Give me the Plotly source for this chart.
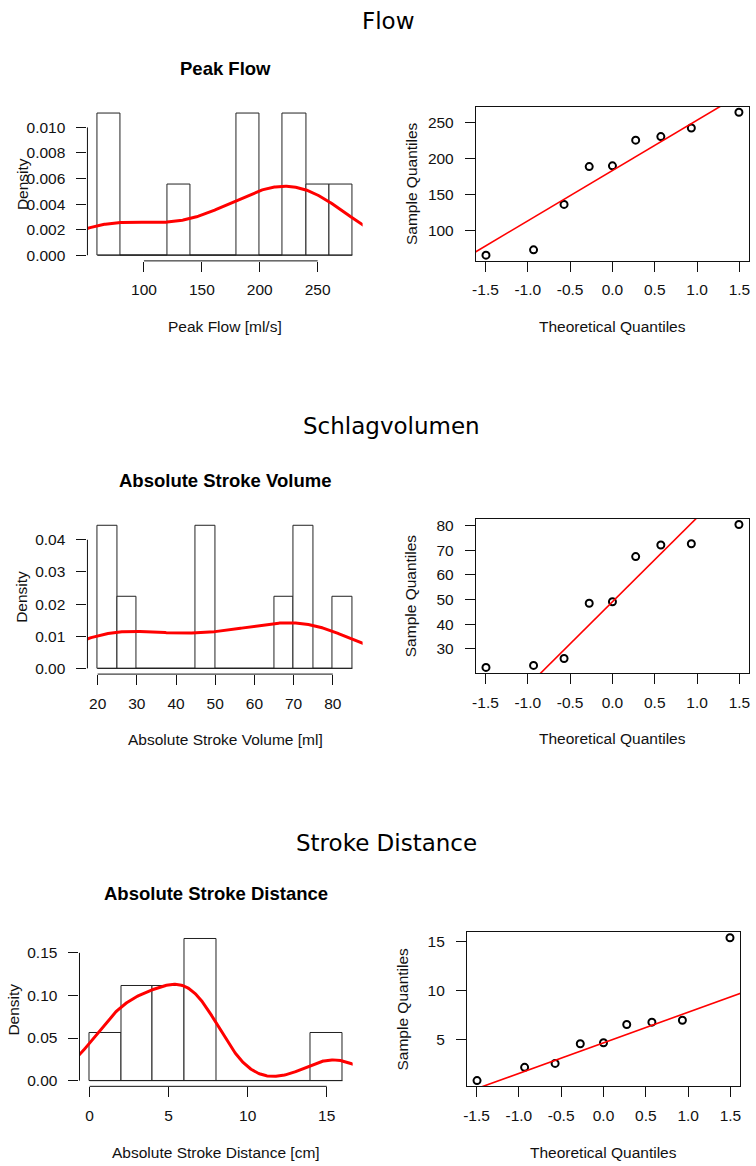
import numpy as np
import plotly.graph_objects as go
from statistics import NormalDist

W, H = 756, 1166

# ---- data -------------------------------------------------------------
peak_flow = [65, 72.5, 136, 189, 190, 226, 231, 243, 265]
stroke_volume = [22.5, 23.3, 26.1, 48.5, 49.1, 67.4, 72.1, 72.6, 80.4]
stroke_distance = [0.85, 2.2, 2.6, 4.6, 4.7, 6.56, 6.8, 7.0, 15.4]

peak_flow_breaks = [60, 80, 100, 120, 140, 160, 180, 200, 220, 240, 260, 280]
stroke_volume_breaks = [20, 25, 30, 35, 40, 45, 50, 55, 60, 65, 70, 75, 80, 85]
stroke_distance_breaks = [0, 2, 4, 6, 8, 10, 12, 14, 16]

section_titles = ["Flow", "Schlagvolumen", "Stroke Distance"]
hist_titles = ["Peak Flow", "Absolute Stroke Volume", "Absolute Stroke Distance"]
hist_xtitles = ["Peak Flow [ml/s]", "Absolute Stroke Volume [ml]",
                "Absolute Stroke Distance [cm]"]

hist_xticks = [[100, 150, 200, 250],
               [20, 30, 40, 50, 60, 70, 80],
               [0, 5, 10, 15]]
hist_yticks = [[0, 0.002, 0.004, 0.006, 0.008, 0.010],
               [0, 0.01, 0.02, 0.03, 0.04],
               [0, 0.05, 0.10, 0.15]]
hist_yfmt = [".3f", ".2f", ".2f"]

qq_xticks = [-1.5, -1.0, -0.5, 0.0, 0.5, 1.0, 1.5]
qq_xticklabels = ["-1.5", "-1.0", "-0.5", "0.0", "0.5", "1.0", "1.5"]
qq_yticks = [[100, 150, 200, 250],
             [30, 40, 50, 60, 70, 80],
             [5, 10, 15]]

samples = [peak_flow, stroke_volume, stroke_distance]
breaks = [peak_flow_breaks, stroke_volume_breaks, stroke_distance_breaks]

# ---- page layout (pixel boxes: left, top, right, bottom) ---------------
hist_boxes = [(84, 106, 361, 260), (84, 520, 361, 675), (76, 935, 351, 1089)]
qq_boxes = [(475, 105, 750, 260), (475, 519, 750, 674), (466, 934, 741, 1089)]
section_title_pos = [(387, 19), (390.5, 425.5), (385, 844.5)]

LBL = "Liberation Sans, Arial, Helvetica, sans-serif"
INK = "#111111"
RED = "#ff0000"
FS = 15.5


def px_x(v):
    return v / W


def px_y(v):
    return 1 - v / H


def ext(lo, hi, f=0.04):
    d = (hi - lo) * f
    return [lo - d, hi + d]


def to_paper(v, rng, d):
    return d[0] + (v - rng[0]) / (rng[1] - rng[0]) * (d[1] - d[0])


def kde_nrd0(x):
    x = np.asarray(x, float)
    n = len(x)
    q1, q3 = np.quantile(x, [0.25, 0.75])
    bw = 0.9 * min(np.std(x, ddof=1), (q3 - q1) / 1.34) * n ** -0.2
    grid = np.linspace(x.min() - 3 * bw, x.max() + 3 * bw, 512)
    z = (grid[:, None] - x[None, :]) / bw
    dens = np.exp(-0.5 * z ** 2).sum(axis=1) / (n * bw * np.sqrt(2 * np.pi))
    return grid, dens


def tick_axis(**kw):
    base = dict(showgrid=False, zeroline=False, ticks="outside", ticklen=10,
                tickwidth=1, tickcolor=INK,
                tickfont=dict(family=LBL, size=FS, color=INK))
    base.update(kw)
    return base


def label(text, x, y, size=FS, angle=0, weight="normal", family=LBL, color=INK):
    return dict(text=text, x=px_x(x), y=px_y(y), xref="paper", yref="paper",
                showarrow=False, xanchor="center", yanchor="middle",
                textangle=angle, font=dict(family=family, size=size,
                                           color=color, weight=weight))


fig = go.Figure()
layout = dict(width=W, height=H, margin=dict(l=0, r=0, t=0, b=0),
              paper_bgcolor="white", plot_bgcolor="white", showlegend=False,
              bargap=0)
shapes, annotations = [], []
nd = NormalDist()

for i in range(3):
    hx, hy = 2 * i + 1, 2 * i + 2
    xa_h, ya_h = f"x{hx}", f"y{hx}"
    xa_q, ya_q = f"x{hy}", f"y{hy}"
    data = np.asarray(samples[i], float)
    br = np.asarray(breaks[i], float)

    # -- histogram (density scale) with kernel density estimate --------
    counts, _ = np.histogram(data, bins=br)
    dens = counts / (len(data) * np.diff(br))
    mids = (br[:-1] + br[1:]) / 2
    fig.add_trace(go.Bar(x=mids, y=dens, width=np.diff(br), xaxis=xa_h, yaxis=ya_h,
                         marker=dict(color="white", line=dict(color="#222222", width=1))))
    fig.add_trace(go.Scatter(x=[br[0], br[-1]], y=[0, 0], mode="lines",
                             line=dict(color="#222222", width=1),
                             xaxis=xa_h, yaxis=ya_h))
    gx, gy = kde_nrd0(data)
    fig.add_trace(go.Scatter(x=gx, y=gy, mode="lines",
                             line=dict(color=RED, width=3),
                             xaxis=xa_h, yaxis=ya_h))

    l, t, r, b = hist_boxes[i]
    xr = ext(br[0], br[-1])
    yr = ext(0, dens.max())
    dom_x = [px_x(l), px_x(r)]
    dom_y = [px_y(b), px_y(t)]
    layout[f"xaxis{hx}"] = tick_axis(domain=dom_x, range=xr, anchor=ya_h,
                                     showline=False, tickvals=hist_xticks[i],
                                     ticklabelstandoff=5)
    layout[f"yaxis{hx}"] = tick_axis(domain=dom_y, range=yr, anchor=xa_h,
                                     showline=False, tickvals=hist_yticks[i],
                                     tickformat=hist_yfmt[i], ticklabelstandoff=8)

    # axis lines spanning first to last tick
    xt = hist_xticks[i]
    shapes.append(dict(type="line", xref="paper", yref="paper", layer="above",
                       x0=to_paper(xt[0], xr, dom_x), x1=to_paper(xt[-1], xr, dom_x),
                       y0=dom_y[0], y1=dom_y[0], line=dict(color=INK, width=1)))
    yt = hist_yticks[i]
    shapes.append(dict(type="line", xref="paper", yref="paper", layer="above",
                       x0=dom_x[0], x1=dom_x[0],
                       y0=to_paper(yt[0], yr, dom_y), y1=to_paper(yt[-1], yr, dom_y),
                       line=dict(color=INK, width=1)))

    cx, cy = (l + r) / 2, (t + b) / 2
    annotations.append(label(hist_titles[i], cx, t - 39.5, size=18.5,
                             weight="bold", color="black"))
    annotations.append(label(hist_xtitles[i], cx, b + 66))
    annotations.append(label("Density", l - 66, cy, angle=-90))

    # -- normal Q-Q plot --------------------------------------------------
    n = len(data)
    a = 3 / 8 if n <= 10 else 0.5
    probs = (np.arange(1, n + 1) - a) / (n + 1 - 2 * a)
    theo = np.array([nd.inv_cdf(p) for p in probs])
    srt = np.sort(data)
    fig.add_trace(go.Scatter(x=theo, y=srt, mode="markers", xaxis=xa_q, yaxis=ya_q,
                             marker=dict(symbol="circle-open", size=7, color="black",
                                         line=dict(width=2, color="black"))))
    q1, q3 = np.quantile(data, [0.25, 0.75])
    z1, z3 = nd.inv_cdf(0.25), nd.inv_cdf(0.75)
    slope = (q3 - q1) / (z3 - z1)
    icpt = q1 - slope * z1
    lx = np.array([-3.0, 3.0])
    fig.add_trace(go.Scatter(x=lx, y=icpt + slope * lx, mode="lines",
                             line=dict(color=RED, width=1.6),
                             xaxis=xa_q, yaxis=ya_q))

    l, t, r, b = qq_boxes[i]
    box = dict(showline=True, mirror=True, linecolor=INK, linewidth=1)
    layout[f"xaxis{hy}"] = tick_axis(domain=[px_x(l), px_x(r)],
                                     range=ext(theo.min(), theo.max()), anchor=ya_q,
                                     tickvals=qq_xticks, ticktext=qq_xticklabels,
                                     ticklabelstandoff=5, **box)
    layout[f"yaxis{hy}"] = tick_axis(domain=[px_y(b), px_y(t)],
                                     range=ext(srt.min(), srt.max()), anchor=xa_q,
                                     tickvals=qq_yticks[i], ticklabelstandoff=8, **box)
    cx, cy = (l + r) / 2, (t + b) / 2
    annotations.append(label("Theoretical Quantiles", cx, b + 66))
    annotations.append(label("Sample Quantiles", l - 65, cy, angle=-90))

    # -- section heading ---------------------------------------------------
    sx, sy = section_title_pos[i]
    annotations.append(label(section_titles[i], sx, sy, size=23,
                             family="DejaVu Sans", color="black"))

layout["shapes"] = shapes
layout["annotations"] = annotations
fig.update_layout(**layout)
fig.write_html("out.html")
